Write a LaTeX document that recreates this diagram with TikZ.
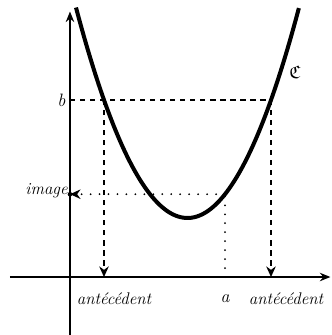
\documentclass[tikz,border=0pt]{standalone}
\usepackage{amsmath,amssymb}
\usepackage{tikz}
\usetikzlibrary{arrows.meta,positioning,calc}

\tikzset{
  axis/.style={line width=2pt,-{Stealth[length=10pt,width=8pt]}},
  guide/.style={line width=2pt,dash pattern=on 5pt off 4.5pt},
  fine/.style={line width=1.9pt,dash pattern=on 0pt off 8.5pt,line cap=round},
  tip/.style={-{Stealth[length=10pt,width=9pt]}},
  lbl/.style={font=\fontsize{16}{18}\selectfont\itshape,inner sep=1pt}
}

\begin{document}
\begin{tikzpicture}
\useasboundingbox (-2.333,-1.933) rectangle (8.7,9.233);
% axes
\draw[axis] (-2,0)--(8.68,0);
\draw[axis] (0,-1.933)--(0,8.85);
% curve
\draw[line width=3.8pt,domain=0.2:7.63,samples=80,smooth]
  plot (\x,{0.5077*(\x-3.917)^2+1.967});
\coordinate (B) at (0,5.9);
\coordinate (P) at (1.133,5.9);
\coordinate (Q) at (6.7,5.9);
\coordinate (P0) at (1.133,0);
\coordinate (Q0) at (6.7,0);
\coordinate (A0) at (5.167,0);
\coordinate (M) at (5.167,2.76);
\coordinate (I) at (0,2.76);
% antecedents
\draw[guide] (B)--(Q);
\draw[guide,tip] (P)--(P0);
\draw[guide,tip] (Q)--(Q0);
% image
\draw[fine] (A0)--(M);
\draw[fine,tip] (M)--(I);
\fill (I) circle (2.2pt);
% labels
\node[lbl,left=3pt of B] (lb) {\fontsize{17}{19}\selectfont b};
\node[lbl,left=1pt of I,yshift=3pt] (li) {image};
\node[lbl] (l1) at (1.47,-0.72) {antécédent};
\node[lbl] (la) at (5.167,-0.72) {\fontsize{17}{19}\selectfont a};
\node[lbl] (l2) at (7.2,-0.72) {antécédent};
\node[font=\LARGE] (lc) at (7.5,6.83) {$\mathfrak{C}$};
\end{tikzpicture}
\end{document}
